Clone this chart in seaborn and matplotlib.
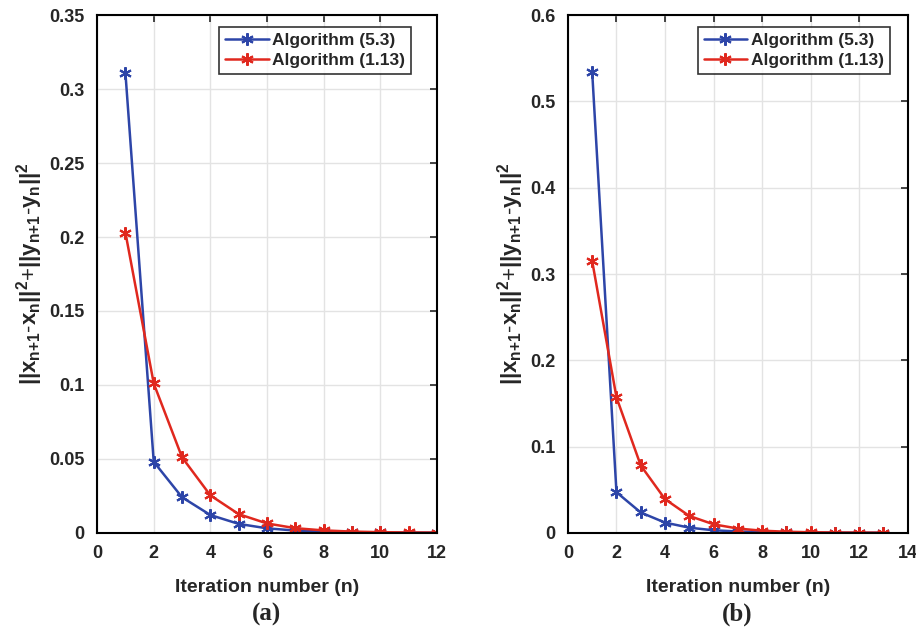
import numpy as np
import pandas as pd
import matplotlib
matplotlib.use("Agg")
import matplotlib.pyplot as plt
import seaborn as sns

# data
iter_a = [1, 2, 3, 4, 5, 6, 7, 8, 9, 10, 11, 12]
alg53_a = [0.311, 0.048, 0.024, 0.012, 0.006, 0.003, 0.0015, 0.0008, 0.0004, 0.0002, 0.0001, 0.00005]
alg113_a = [0.203, 0.101, 0.051, 0.0253, 0.0126, 0.0063, 0.0031, 0.0016, 0.0008, 0.0004, 0.0002, 0.0001]

iter_b = [1, 2, 3, 4, 5, 6, 7, 8, 9, 10, 11, 12, 13]
alg53_b = [0.534, 0.047, 0.0235, 0.0118, 0.0059, 0.0029, 0.0015, 0.0007, 0.0004, 0.0002, 0.0001, 0.00005, 0.00002]
alg113_b = [0.315, 0.157, 0.078, 0.039, 0.0195, 0.0098, 0.0049, 0.0024, 0.0012, 0.0006, 0.0003, 0.00015, 0.00008]

labels = ["Algorithm (5.3)", "Algorithm (1.13)"]
colors = ["#2D45A8", "#E0281E"]

sns.set_style("white")
plt.rcParams["font.family"] = ["Liberation Sans", "DejaVu Sans"]
plt.rcParams["font.weight"] = "bold"
plt.rcParams["mathtext.fontset"] = "custom"
plt.rcParams["mathtext.rm"] = "Liberation Sans:bold"
plt.rcParams["mathtext.it"] = "Liberation Sans:bold"
plt.rcParams["mathtext.bf"] = "Liberation Sans:bold"


def draw(ax, x, series, xmax, ymax, yticks, ytl, leg_anchor):
    for y, lab, c in zip(series, labels, colors):
        df = pd.DataFrame({"n": x, "value": y})
        sns.lineplot(data=df, x="n", y="value", color=c, label=lab,
                     marker=(6, 2, 0), markersize=9, markeredgewidth=1.5,
                     markeredgecolor=c, linewidth=1.8, ax=ax,
                     estimator=None, sort=False)
    ax.set_xlim(0, xmax)
    ax.set_ylim(0, ymax)
    ax.set_xticks(np.arange(0, xmax + 1, 2))
    ax.set_yticks(yticks)
    ax.set_yticklabels(ytl)
    ax.grid(True, color="#E3E3E3", linewidth=1.0)
    ax.tick_params(direction="in", top=True, right=True, length=5, width=1.2,
                   labelsize=13, pad=9)
    for t in ax.get_xticklabels() + ax.get_yticklabels():
        t.set_fontweight("bold")
    for s in ax.spines.values():
        s.set_color("black")
        s.set_linewidth(1.5)
    ax.set_xlabel("Iteration number (n)", fontsize=14, fontweight="bold", labelpad=12)
    ax.set_ylabel(r"$||x_{n{+}1}$-$x_n||^2$+$||y_{n{+}1}$-$y_n||^2$", fontsize=16, labelpad=3)
    leg = ax.legend(loc="upper right", bbox_to_anchor=leg_anchor, fontsize=12.5,
                    frameon=True, fancybox=False, edgecolor="black",
                    handlelength=2.5, borderpad=0.35, labelspacing=0.3,
                    handletextpad=0.2, borderaxespad=0)
    leg.get_frame().set_linewidth(1.2)
    for t in leg.get_texts():
        t.set_fontweight("bold")


fig = plt.figure(figsize=(9.16, 6.35), dpi=100)
ax1 = fig.add_axes([0.106, 0.161, 0.371, 0.815])
ax2 = fig.add_axes([0.620, 0.161, 0.371, 0.815])

draw(ax1, iter_a, [alg53_a, alg113_a], 12, 0.35,
     [0, 0.05, 0.1, 0.15, 0.2, 0.25, 0.3, 0.35],
     ["0", "0.05", "0.1", "0.15", "0.2", "0.25", "0.3", "0.35"],
     (0.924, 0.978))
draw(ax2, iter_b, [alg53_b, alg113_b], 14, 0.6,
     [0, 0.1, 0.2, 0.3, 0.4, 0.5, 0.6],
     ["0", "0.1", "0.2", "0.3", "0.4", "0.5", "0.6"],
     (0.947, 0.978))

fig.text(0.291, 0.022, "(a)", fontsize=18, fontweight="bold",
         family=["Liberation Serif", "DejaVu Serif"], ha="center")
fig.text(0.805, 0.022, "(b)", fontsize=18, fontweight="bold",
         family=["Liberation Serif", "DejaVu Serif"], ha="center")

fig.savefig("out.png", dpi=100)
